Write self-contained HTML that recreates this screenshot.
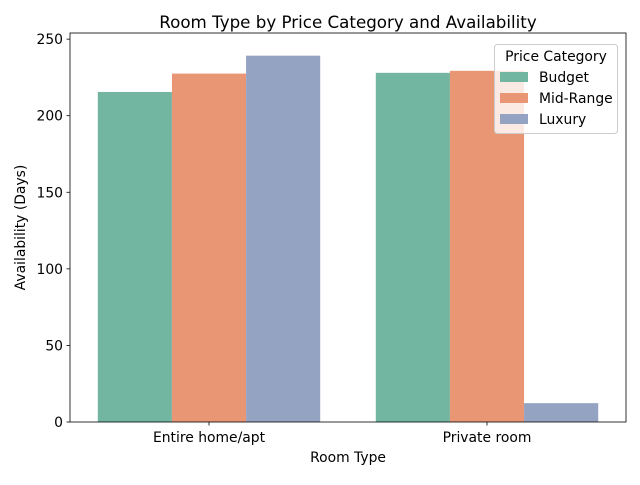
<!DOCTYPE html>
<html><head><meta charset="utf-8"><style>body{margin:0;background:#fff}svg{font-family:"DejaVu Sans","Liberation Sans",sans-serif}</style></head>
<body>
<svg id="c" width="640" height="480" xmlns="http://www.w3.org/2000/svg"></svg>
<script>
const categories = ["Entire home/apt", "Private room"];
const seriesNames = ["Budget", "Mid-Range", "Luxury"];
const budget = [215.5, 228];
const midRange = [227.5, 229.3];
const luxury = [239.2, 12.3];
const yTicks = [0, 50, 100, 150, 200, 250];
const colors = ["#72b6a1", "#e99675", "#95a3c3"];
const series = [budget, midRange, luxury];
const L=70,R=626,T=33,B=422,yMax=254;
const ns="http://www.w3.org/2000/svg", svg=document.getElementById('c');
function y(v){return B-(v/yMax)*(B-T);}
function xc(i){return L+(i+0.5)*(R-L)/categories.length;}
const bw=(R-L)/categories.length*0.8/series.length;
function mk(t,a,txt){const e=document.createElementNS(ns,t);for(const k in a)e.setAttribute(k,a[k]);if(txt!=null)e.textContent=txt;svg.appendChild(e);return e;}
series.forEach((s,si)=>s.forEach((v,ci)=>{
 const x=xc(ci)-1.5*bw+si*bw;
 const r=mk('rect',{x:x,y:y(v),width:bw,height:B-y(v),fill:colors[si]});
 
 
}));
mk('rect',{x:L,y:T,width:R-L,height:B-T,fill:'none',stroke:'#000','stroke-width':0.8,});
yTicks.forEach(t=>{
 const l=mk('line',{x1:L-3.5,x2:L,y1:y(t),y2:y(t),stroke:'#000','stroke-width':0.8});
 
 const tx=mk('text',{x:L-7,y:y(t)+5,'text-anchor':'end','font-size':13.9},t);
 
});
categories.forEach((c,i)=>{
 const l=mk('line',{x1:xc(i),x2:xc(i),y1:B,y2:B+3.5,stroke:'#000','stroke-width':0.8});
 
 const tx=mk('text',{x:xc(i),y:B+20,'text-anchor':'middle','font-size':13.9},c);
 
});
mk('text',{x:(L+R)/2,y:28,'text-anchor':'middle','font-size':16.7,},'Room Type by Price Category and Availability');
mk('text',{x:(L+R)/2,y:462,'text-anchor':'middle','font-size':13.9,},'Room Type');
mk('text',{x:0,y:0,'text-anchor':'middle','font-size':13.9,transform:'translate(25,'+((T+B)/2)+') rotate(-90)',},'Availability (Days)');
mk('rect',{x:494.5,y:44.5,width:123,height:89,rx:3,fill:'#fff','fill-opacity':0.8,stroke:'#ccc',});
mk('text',{x:556,y:61,'text-anchor':'middle','font-size':13.9,},'Price Category');
seriesNames.forEach((n,i)=>{
 const yy=77+i*21;
 const p=mk('rect',{x:500,y:yy-5,width:28,height:10,fill:colors[i]});
 
 const t=mk('text',{x:539,y:yy+5,'font-size':13.9},n);
 
});
</script>
</body></html>
